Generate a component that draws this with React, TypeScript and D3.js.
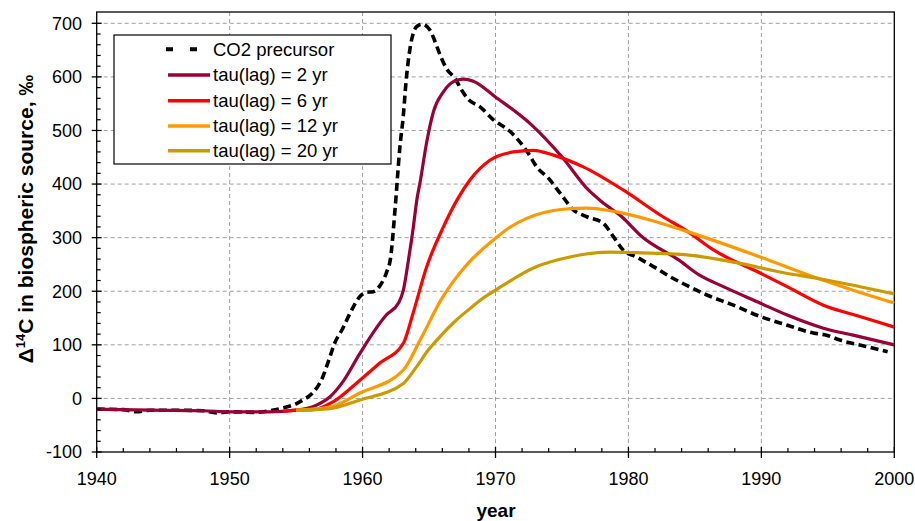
import React from "react";
import * as d3 from "d3";

// Year / Δ14C (‰) pairs for each series
const co2Years = [1940, 1942, 1943, 1944, 1946, 1948, 1949, 1950, 1952, 1953, 1954, 1955, 1955.5, 1956.2, 1956.9, 1957.55, 1957.9, 1958.5, 1959.06, 1959.8, 1960.3, 1960.8, 1961.3, 1961.8, 1962.1, 1962.45, 1962.8, 1963.07, 1963.27, 1963.57, 1964.08, 1964.5, 1965.08, 1965.45, 1965.83, 1966.3, 1966.96, 1967.46, 1967.96, 1968.84, 1969.84, 1971.1, 1972.48, 1973.1, 1973.98, 1974.86, 1975.86, 1976.87, 1978.1, 1978.87, 1979.6, 1980.6, 1981.88, 1983.14, 1984.14, 1985.9, 1987.9, 1989.9, 1991.9, 1993.9, 1994.9, 1995.9, 1997.9, 1999.5];
const co2Values = [-20, -21, -25, -22, -22, -23, -27, -25, -26, -23, -18, -10, -3, 9, 34, 78, 103, 130, 159, 190, 198, 199, 210, 235, 261, 355, 467, 529, 591, 653, 694, 698, 687, 666, 641, 616, 597, 575, 558, 544, 520, 498, 457, 432, 411, 383, 352, 339, 327, 302, 277, 264, 246, 227, 214, 193, 174, 153, 137, 122, 118, 109, 97, 87];

const tau2Years = [1940, 1944, 1948, 1950, 1953, 1955, 1956.5, 1957.55, 1958.43, 1959.8, 1960.94, 1961.8, 1962.7, 1963.07, 1963.45, 1963.82, 1964.08, 1964.33, 1964.83, 1965.33, 1966.08, 1966.83, 1967.58, 1968.34, 1969.97, 1972.73, 1974.99, 1976.99, 1977.99, 1979.5, 1981.0, 1983.8, 1985.35, 1987.1, 1989.9, 1991.9, 1994.67, 1996.9, 2000];
const tau2Values = [-20, -22, -23, -25, -25, -22, -13, 3, 28, 84, 128, 156, 178, 202, 258, 320, 370, 404, 479, 535, 572, 591, 596, 592, 563, 510, 451, 389, 367, 339, 302, 258, 230, 209, 178, 156, 131, 118, 100];

const tau6Years = [1954, 1955, 1956.3, 1957.8, 1959.8, 1961.3, 1963.07, 1963.8, 1964.83, 1966.08, 1967.1, 1968.09, 1969.6, 1971.35, 1972.85, 1974.36, 1976.6, 1979.6, 1982.6, 1984.3, 1986.4, 1989.9, 1991.9, 1994.67, 1997.4, 2000];
const tau6Values = [-24, -22, -21, -6, 34, 66, 103, 159, 246, 320, 370, 408, 445, 460, 463, 454, 432, 389, 339, 314, 277, 234, 209, 174, 153, 133];

const tau12Years = [1955, 1957.55, 1959.8, 1963.07, 1964.33, 1966, 1967, 1968, 1969, 1970, 1971, 1972.35, 1975.1, 1976.87, 1979.1, 1981.6, 1984.1, 1989.9, 1993.9, 1996.9, 2000];
const tau12Values = [-22, -16, 10, 53, 109, 188, 224, 254, 278, 299, 318, 336, 353, 355, 348, 333, 314, 264, 227, 202, 178];

const tau20Years = [1955, 1957.55, 1959.8, 1963.07, 1964, 1965, 1966, 1967, 1968, 1969, 1970, 1973.1, 1975.6, 1978.6, 1980.6, 1983.1, 1984.4, 1988.4, 1991.4, 1994.9, 2000];
const tau20Values = [-22, -19, -3, 28, 57, 92, 120, 145, 166, 186, 202, 246, 264, 273, 272, 270, 268, 252, 236, 221, 195];

const seriesNames = ["CO2 precursor", "tau(lag) = 2 yr", "tau(lag) = 6 yr", "tau(lag) = 12 yr", "tau(lag) = 20 yr"];
const seriesColors = ["#000000", "#990033", "#FF0000", "#FF9900", "#CC9900"];

const xTicks = [1940, 1950, 1960, 1970, 1980, 1990, 2000];
const yTicks = [-100, 0, 100, 200, 300, 400, 500, 600, 700];

const W = 915;
const H = 521;
const left = 96.7;
const right = 894.3;
const top = 23.3;
const bottom = 452;
const frameTop = 12;

export default function App() {
  const x = d3.scaleLinear().domain([1940, 2000]).range([left, right]);
  const y = d3.scaleLinear().domain([-100, 700]).range([bottom, top]);

  const line = d3
    .line<[number, number]>()
    .x((d) => x(d[0]))
    .y((d) => y(d[1]))
    .curve(d3.curveMonotoneX);

  const zip = (ys: number[], vs: number[]) => ys.map((yr, i) => [yr, vs[i]] as [number, number]);
  const series = [
    zip(co2Years, co2Values),
    zip(tau2Years, tau2Values),
    zip(tau6Years, tau6Values),
    zip(tau12Years, tau12Values),
    zip(tau20Years, tau20Values),
  ];

  const xMinor = d3.range(1942, 2000, 2).filter((v) => v % 10 !== 0);
  const yMinor = d3.range(-80, 720, 20).filter((v) => v % 100 !== 0 && v <= 700);

  const font = "Arial, 'Liberation Sans', sans-serif";
  const legX = 114;
  const legY = 35;
  const legRows = [49.3, 75, 100.7, 126, 150.7];

  return (
    <svg width={W} height={H} style={{ position: "absolute", left: 0, top: 0 }} fontFamily={font}>
      <rect x={0} y={0} width={W} height={H} fill="#ffffff" />

      {/* grid */}
      {yTicks.filter((t) => t > -100).map((t) => (
        <line key={"gy" + t} x1={left} x2={right} y1={y(t)} y2={y(t)} stroke="#a0a0a0" strokeWidth={1} strokeDasharray="4,3" />
      ))}
      {xTicks.filter((t) => t > 1940 && t < 2000).map((t) => (
        <line key={"gx" + t} x1={x(t)} x2={x(t)} y1={frameTop} y2={bottom} stroke="#a0a0a0" strokeWidth={1} strokeDasharray="4,3" />
      ))}

      {/* frame */}
      <rect x={left} y={frameTop} width={right - left} height={bottom - frameTop} fill="none" stroke="#000" strokeWidth={1.3} />

      {/* series, in legend order */}
      {series.map((pts, i) => (
        <path
          key={"s" + i}
          d={line(pts) || ""}
          fill="none"
          stroke={seriesColors[i]}
          strokeWidth={i === 0 ? 3.6 : 3.2}
          strokeDasharray={i === 0 ? "8,4.5" : undefined}
          strokeLinejoin="round"
        />
      ))}

      {/* x axis ticks */}
      {xTicks.map((t) => (
        <line key={"xt" + t} x1={x(t)} x2={x(t)} y1={bottom - 5} y2={bottom + 6} stroke="#000" strokeWidth={1.3} />
      ))}
      {xMinor.map((t) => (
        <line key={"xm" + t} x1={x(t)} x2={x(t)} y1={bottom - 4} y2={bottom} stroke="#000" strokeWidth={1.2} />
      ))}
      {xTicks.map((t) => (
        <text key={"xl" + t} x={x(t)} y={485} textAnchor="middle" fontSize={18} fill="#000">
          {t}
        </text>
      ))}

      {/* y axis ticks */}
      {yTicks.map((t) => (
        <line key={"yt" + t} x1={left - 5} x2={left + 5} y1={y(t)} y2={y(t)} stroke="#000" strokeWidth={1.3} />
      ))}
      {yMinor.map((t) => (
        <line key={"ym" + t} x1={left} x2={left + 4} y1={y(t)} y2={y(t)} stroke="#000" strokeWidth={1.2} />
      ))}
      {yTicks.map((t) => (
        <text key={"yl" + t} x={82} y={y(t) + 6.3} textAnchor="end" fontSize={18} fill="#000">
          {t}
        </text>
      ))}

      {/* axis titles */}
      <text x={496} y={517} textAnchor="middle" fontSize={19} fontWeight="bold" fill="#000">
        year
      </text>
      <text transform="translate(33,219) rotate(-90)" textAnchor="middle" fontSize={21} fontWeight="bold" fill="#000">
        Δ<tspan dy={-8} fontSize={13}>14</tspan>
        <tspan dy={8}>C in biospheric source, ‰</tspan>
      </text>

      {/* legend */}
      <rect x={legX} y={legY} width={391 - legX} height={164 - legY} fill="#fff" stroke="#000" strokeWidth={1.2} />
      {seriesNames.map((name, i) => (
        <g key={"lg" + i}>
          <line
            x1={i === 0 ? 166 : 168}
            x2={210}
            y1={legRows[i]}
            y2={legRows[i]}
            stroke={seriesColors[i]}
            strokeWidth={i === 0 ? 4 : 3.5}
            strokeDasharray={i === 0 ? "7,17" : undefined}
          />
          <text x={213} y={legRows[i] + 6.3} fontSize={18.5} fill="#000">
            {name}
          </text>
        </g>
      ))}
    </svg>
  );
}
